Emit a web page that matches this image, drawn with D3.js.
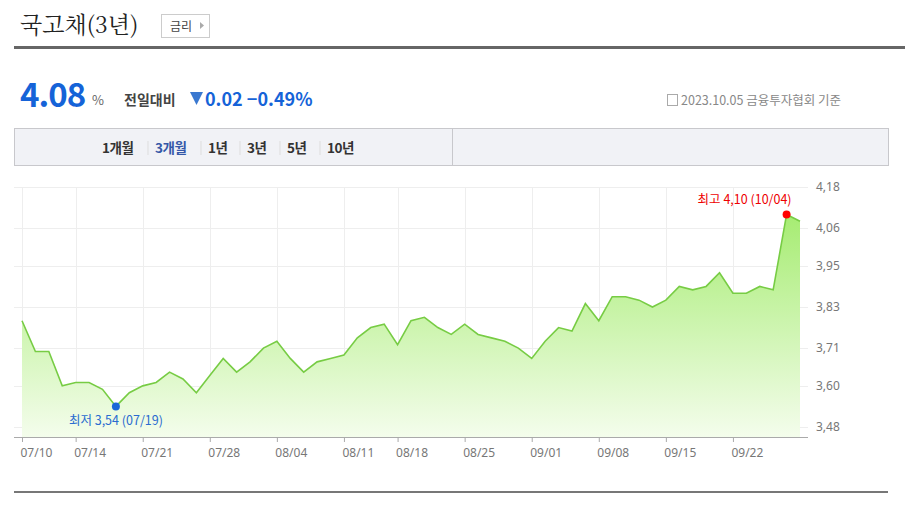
<!DOCTYPE html>
<html><head><meta charset="utf-8">
<script src="https://cdn.jsdelivr.net/npm/d3@7"></script>
<style>
body{margin:0;background:#fff;font-family:"Noto Sans CJK KR","Noto Sans",sans-serif;}
</style></head>
<body><svg id="c" width="905" height="511"></svg>
<script>
var dates = ["07/10","07/11","07/12","07/13","07/14","07/17","07/18","07/19","07/20","07/21","07/24","07/25","07/26","07/27","07/28","07/31",
  "08/01","08/02","08/03","08/04","08/07","08/08","08/09","08/10","08/11","08/14","08/16","08/17","08/18","08/21","08/22","08/23","08/24","08/25","08/28","08/29","08/30","08/31",
  "09/01","09/04","09/05","09/06","09/07","09/08","09/11","09/12","09/13","09/14","09/15","09/18","09/19","09/20","09/21","09/22","09/25","09/26","09/27",
  "10/04","10/05"];
var rates = [3.79,3.70,3.70,3.60,3.61,3.61,3.59,3.54,3.58,3.60,3.61,3.64,3.62,3.58,3.63,3.68,
  3.64,3.67,3.71,3.73,3.68,3.64,3.67,3.68,3.69,3.74,3.77,3.78,3.72,3.79,3.80,3.77,3.75,3.78,3.75,3.74,3.73,3.71,
  3.68,3.73,3.77,3.76,3.84,3.79,3.86,3.86,3.85,3.83,3.85,3.89,3.88,3.89,3.93,3.87,3.87,3.89,3.88,
  4.10,4.08];
var xTicks = ["07/10","07/14","07/21","07/28","08/04","08/11","08/18","08/25","09/01","09/08","09/15","09/22"];
var yTicks = [3.48,3.60,3.71,3.83,3.95,4.06,4.18];
var tabs = ["1개월","3개월","1년","3년","5년","10년"];

var svg = d3.select("#c");
var x = d3.scalePoint().domain(dates).range([22, 800]);
var y = d3.scaleLinear().domain([3.48, 4.18]).range([427, 187]);

// header
svg.append("text").attr("x", 20).attr("y", 33).style("font-family", "'Noto Serif CJK KR','Noto Sans CJK KR',serif")
  .style("font-size", "23px").attr("fill", "#222").text("국고채(3년)");
svg.append("rect").attr("x", 161.5).attr("y", 14.5).attr("width", 48).attr("height", 23).attr("fill", "#fff").attr("stroke", "#ccc");
svg.append("text").attr("x", 170).attr("y", 31).style("font-size", "12px").attr("fill", "#444").text("금리");
svg.append("path").attr("d", "M200,22 L204,25.5 L200,29 Z").attr("fill", "#aaa");
svg.append("rect").attr("x", 14).attr("y", 46).attr("width", 891).attr("height", 3).attr("fill", "#666");

svg.append("text").attr("x", 20).attr("y", 107).style("font-size", "33px").style("font-weight", "bold").attr("fill", "#1563d8").attr("letter-spacing", "-1").text("4.08");
svg.append("text").attr("x", 92).attr("y", 105).style("font-size", "13px").attr("fill", "#666").text("%");
svg.append("text").attr("x", 124).attr("y", 105).style("font-size", "14px").style("font-weight", "bold").attr("fill", "#444").text("전일대비");
svg.append("path").attr("d", "M190,92 L203,92 L196.5,105 Z").attr("fill", "#3a78d0");
svg.append("text").attr("x", 205).attr("y", 106).style("font-size", "18px").style("font-weight", "bold").attr("fill", "#1563d8").text("0.02  −0.49%");
svg.append("rect").attr("x", 667.5).attr("y", 94.5).attr("width", 10).attr("height", 11).attr("fill", "none").attr("stroke", "#aaa");
svg.append("text").attr("x", 681).attr("y", 105).style("font-size", "12.5px").attr("fill", "#888").text("2023.10.05  금융투자협회 기준");

// tab bar
svg.append("rect").attr("x", 14.5).attr("y", 128.5).attr("width", 874).attr("height", 37).attr("fill", "#f1f2f6").attr("stroke", "#c8c8cc");
svg.append("line").attr("x1", 452.5).attr("x2", 452.5).attr("y1", 129).attr("y2", 165).attr("stroke", "#c8c8cc");
var tx = [102, 155, 208, 247, 287, 327];
tabs.forEach(function(t, i) {
  svg.append("text").attr("x", tx[i]).attr("y", 153).style("font-size", "13.5px").style("font-weight", "bold")
    .attr("fill", i == 1 ? "#3558a8" : "#333").attr("letter-spacing", "-0.5").text(t);
  if (i > 0) svg.append("line").attr("x1", tx[i] - 7).attr("x2", tx[i] - 7).attr("y1", 141).attr("y2", 155).attr("stroke", "#ddd");
});

// grid
svg.append("g").selectAll("line").data(yTicks).enter().append("line")
  .attr("x1", 14).attr("x2", 808).attr("y1", function(d) { return Math.round(y(d)) + 0.5; }).attr("y2", function(d) { return Math.round(y(d)) + 0.5; })
  .attr("stroke", "#eee");
svg.append("g").selectAll("line").data(xTicks).enter().append("line")
  .attr("x1", function(d) { return Math.round(x(d)) + 0.5; }).attr("x2", function(d) { return Math.round(x(d)) + 0.5; })
  .attr("y1", 187).attr("y2", 437).attr("stroke", "#eee");

var grad = svg.append("defs").append("linearGradient").attr("id", "g").attr("x1", 0).attr("x2", 0).attr("y1", 0).attr("y2", 1);
grad.append("stop").attr("offset", "0").attr("stop-color", "#a6ec72");
grad.append("stop").attr("offset", "1").attr("stop-color", "#f4fdec");
var area = d3.area().x(function(d, i) { return x(dates[i]); }).y0(437).y1(function(d) { return y(d); });
var line = d3.line().x(function(d, i) { return x(dates[i]); }).y(function(d) { return y(d); });
svg.append("path").attr("d", area(rates)).attr("fill", "url(#g)");
svg.append("path").attr("d", line(rates)).attr("fill", "none").attr("stroke", "#77cc44").attr("stroke-width", 1.6);

// axes
var xa = svg.append("g").attr("transform", "translate(0,437)")
  .call(d3.axisBottom(x).tickValues(xTicks).tickSize(5).tickPadding(6));
xa.select(".domain").attr("d", "M14,0.5H808").attr("stroke", "#aaa");
xa.selectAll(".tick line").attr("stroke", "#aaa");
xa.selectAll("text").attr("text-anchor", "start").attr("dx", "-2").style("font-size", "12px").style("font-family", "'Noto Sans',sans-serif").attr("fill", "#777");
var ya = svg.append("g").attr("transform", "translate(812,0)")
  .call(d3.axisRight(y).tickValues(yTicks).tickSize(0).tickPadding(4).tickFormat(function(d) { return d3.format(".2f")(d).replace(".", ","); }));
ya.select(".domain").remove();
ya.selectAll("text").style("font-size", "12px").style("font-family", "'Noto Sans',sans-serif").attr("fill", "#777");

// min/max markers
var iMin = rates.indexOf(d3.min(rates)), iMax = rates.indexOf(d3.max(rates));
svg.append("circle").attr("cx", x(dates[iMin])).attr("cy", y(rates[iMin])).attr("r", 4).attr("fill", "#1a66d8");
svg.append("text").attr("x", x(dates[iMin])).attr("y", y(rates[iMin]) + 19).attr("text-anchor", "middle").style("font-size", "12.5px").attr("fill", "#2a6bd0")
  .text("최저 " + d3.format(".2f")(rates[iMin]).replace(".", ",") + " (" + dates[iMin] + ")");
svg.append("circle").attr("cx", x(dates[iMax])).attr("cy", y(rates[iMax])).attr("r", 4).attr("fill", "#f00");
svg.append("text").attr("x", x(dates[iMax]) + 5).attr("y", y(rates[iMax]) - 10).attr("text-anchor", "end").style("font-size", "12.5px").attr("fill", "#e00")
  .text("최고 " + d3.format(".2f")(rates[iMax]).replace(".", ",") + " (" + dates[iMax] + ")");

svg.append("rect").attr("x", 14).attr("y", 491).attr("width", 874).attr("height", 2).attr("fill", "#777");
</script></body></html>
